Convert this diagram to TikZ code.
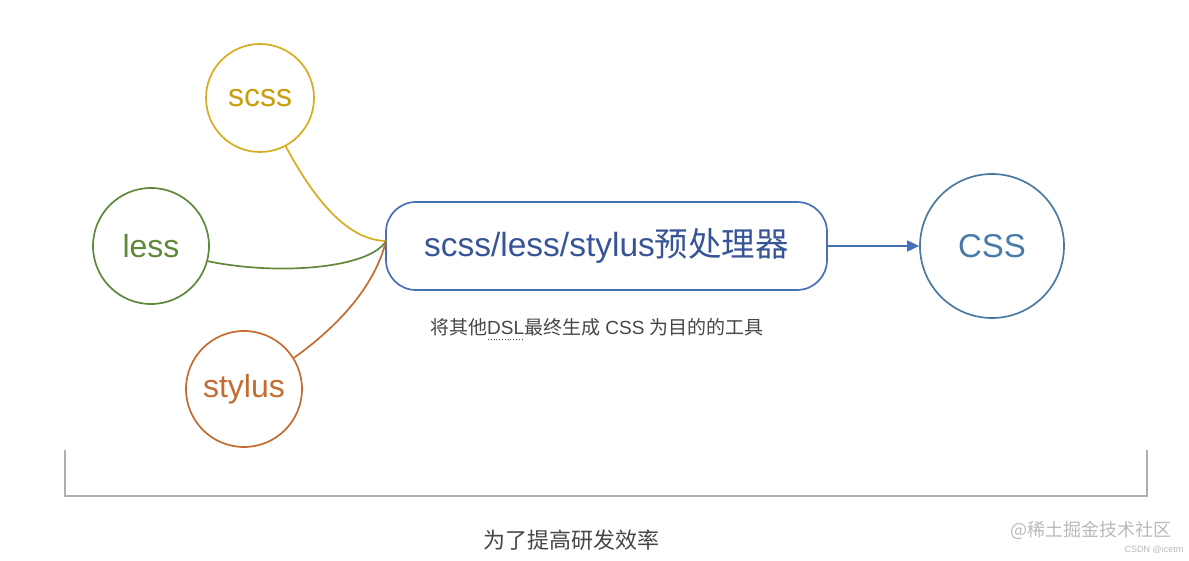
\documentclass[tikz,border=0pt]{standalone}
\usepackage{fontspec}
\setmainfont{Liberation Sans}
\newfontfamily\cjk{Noto Sans CJK SC}
\usetikzlibrary{arrows.meta}
\definecolor{cgold}{RGB}{214,172,32}
\definecolor{cgoldtxt}{RGB}{200,158,15}
\definecolor{cgreen}{RGB}{96,136,58}
\definecolor{corange}{RGB}{196,108,48}
\definecolor{cblue}{RGB}{72,112,185}
\definecolor{cbluetxt}{RGB}{55,85,150}
\definecolor{csteel}{RGB}{75,122,160}
\definecolor{csteeltxt}{RGB}{72,122,170}
\definecolor{cbracket}{RGB}{175,175,175}
\definecolor{ccap}{RGB}{70,70,70}
\definecolor{cwm}{RGB}{185,185,185}
\begin{document}
\begin{tikzpicture}[x=1pt,y=-1pt,
  ring/.style={circle,draw,line width=1.7pt,inner sep=0pt},
  link/.style={line width=1.7pt}]
\useasboundingbox (0,0) rectangle (1189,560);
% nodes
\node[ring,draw=cgold,minimum size=108pt,text=cgoldtxt,font=\fontsize{32}{34}\selectfont] (scss) at (260,98) {scss};
\node[ring,draw=cgreen,minimum size=116pt,text=cgreen,font=\fontsize{32}{34}\selectfont] (less) at (151,246) {less};
\node[ring,draw=corange,minimum size=116pt,text=corange,font=\fontsize{32}{34}\selectfont] (stylus) at (244,389) {stylus};
\node[draw=cblue,line width=1.7pt,rounded corners=30pt,minimum width=441pt,minimum height=88pt,text=cbluetxt,font=\fontsize{33.5}{36}\selectfont] (box) at (606.5,246) {scss/less/stylus{\cjk 预处理器}};
\node[ring,draw=csteel,minimum size=144pt,text=csteeltxt,font=\fontsize{33}{36}\selectfont] (css) at (992,246) {CSS};
\coordinate (m) at (386,241);
% connectors
\draw[link,cgold] (scss.-62) .. controls (312,195) and (345,240) .. (m);
\draw[link,cgreen] (less.-15) .. controls (280,276) and (370,268) .. (m);
\draw[link,corange] (stylus.32) .. controls (340,325) and (375,285) .. (m);
\draw[link,cblue,-{Triangle[length=12pt,width=11pt]}] (box.east) -- (css.west);
% caption
\node[text=ccap,font=\fontsize{19}{21}\selectfont] (cap) at (597,327) {{\cjk 将其他}DSL{\cjk 最终生成} CSS {\cjk 为目的的工具}};
\coordinate (dslA) at (488,339);
\coordinate (dslB) at (524,339);
\draw[ccap,dotted,line width=0.8pt] (dslA) -- (dslB);
% bracket
\coordinate (b1) at (65,450);
\coordinate (b2) at (65,496);
\coordinate (b3) at (1147,496);
\coordinate (b4) at (1147,450);
\draw[cbracket,line width=1.5pt] (b1) -- (b2) -- (b3) -- (b4);
\node[text=ccap,font=\cjk\fontsize{22}{24}\selectfont] (goal) at (571,540) {为了提高研发效率};
% platform marks
\node[text=cwm,font=\cjk\fontsize{18}{20}\selectfont] (wm1) at (1091,530) {@稀土掘金技术社区};
\node[text=cwm,font=\fontsize{9}{10}\selectfont] (wm2) at (1154,550) {CSDN @icetm};
\end{tikzpicture}
\end{document}
